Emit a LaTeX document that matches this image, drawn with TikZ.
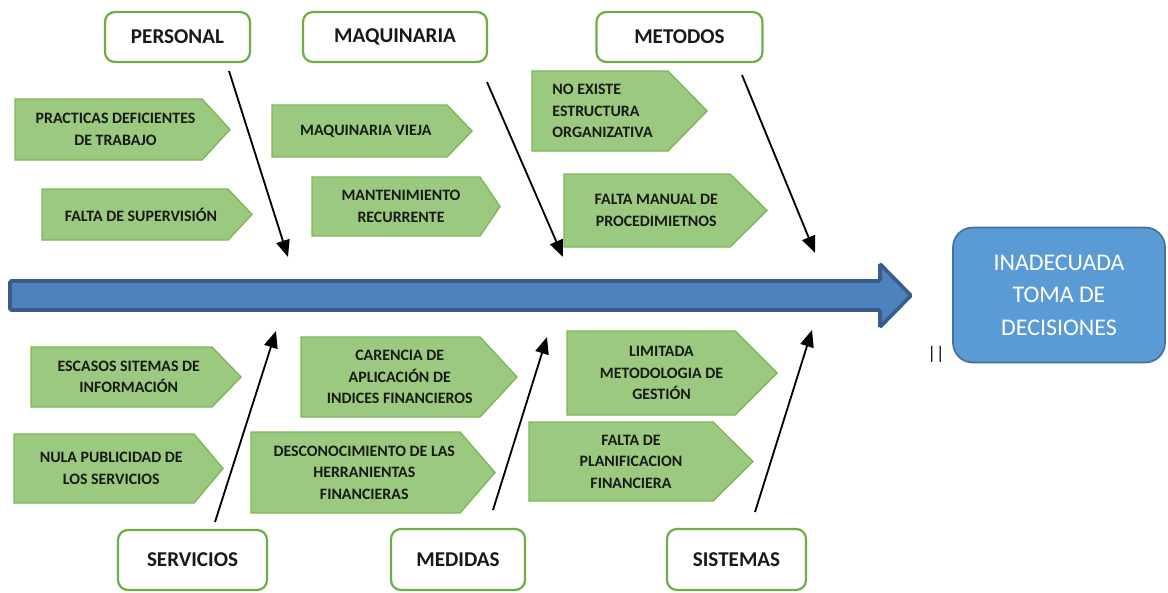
\documentclass[tikz,border=0pt]{standalone}
\usepackage{fontspec}
\setmainfont{Carlito}
\usepackage{tikz}
\usetikzlibrary{arrows.meta}
\usetikzlibrary{positioning}

\definecolor{verdeclaro}{RGB}{155,201,127}
\definecolor{verdeborde}{RGB}{125,183,86}
\definecolor{verdecaja}{RGB}{112,173,71}
\definecolor{azulespina}{RGB}{79,129,189}
\definecolor{azulborde}{RGB}{56,93,138}
\definecolor{azulefecto}{RGB}{91,155,213}
\definecolor{azulefectoborde}{RGB}{65,113,156}

\def\px{0.025cm}

% [opciones]{nombre}{x izq}{y arriba}{x punta ini}{x punta}{y abajo}{texto}
\newcommand{\causa}[8][]{%
  \draw[causabox] (#3,#4) -- (#5,#4) -- (#6,{(#4+#7)/2}) -- (#5,#7) -- (#3,#7) -- cycle;
  \node[textocausa,#1] (#2) at ({(#3+(#5+#6)/2)/2},{(#4+#7)/2}) {#8};
}

\begin{document}
\begin{tikzpicture}[x=0.025cm,y=-0.025cm]
\tikzstyle{causabox}=[fill=verdeclaro,draw=verdeborde,line width=1pt];
\tikzstyle{textocausa}=[font=\fontsize{11.3}{15.3}\selectfont\bfseries,align=center,text=black!90];
\tikzstyle{categoria}=[draw=verdecaja,fill=white,line width=1.6pt,rounded corners=7pt,font=\fontsize{15}{18}\selectfont\bfseries,text=black!90];
\tikzstyle{flecha}=[line width=1.3pt,-{Triangle[length=4.2mm,width=3.4mm]}];
\tikzstyle{espina}=[fill=azulespina,draw=azulborde,line width=2.6pt,rounded corners=1pt];
\tikzstyle{efecto}=[fill=azulefecto,draw=azulefectoborde,line width=1.2pt,rounded corners=14pt,text=white,font=\fontsize{17}{23}\selectfont,align=center];

\useasboundingbox (0,0) rectangle (1168,592);

\draw[espina] (10,281) -- (880,281) -- (880,264) -- (911,295.5) -- (880,327) -- (880,310) -- (10,310) -- cycle; % espina

\node[efecto,minimum width=212*\px,minimum height=135*\px] (efecto) at (1059,295) {INADECUADA\\TOMA DE\\DECISIONES};
\node[font=\fontsize{13}{13}\selectfont] (barras) at (936,354) {||};

% categorias
\node[categoria,minimum width=145*\px,minimum height=50*\px] (personal) at (177.5,37) {PERSONAL};
\node[categoria,minimum width=184*\px,minimum height=50*\px] (maquinaria) at (395,37) {MAQUINARIA};
\node[categoria,minimum width=166*\px,minimum height=50*\px] (metodos) at (679.5,37) {METODOS};
\node[categoria,minimum width=149*\px,minimum height=60*\px] (servicios) at (192.5,560) {SERVICIOS};
\node[categoria,minimum width=134*\px,minimum height=61*\px] (medidas) at (458,559.5) {MEDIDAS};
\node[categoria,minimum width=139*\px,minimum height=61*\px] (sistemas) at (736.5,559.5) {SISTEMAS};

% causas de arriba
\causa{practicas}{15}{99}{202}{230}{160}{PRACTICAS DEFICIENTES\\DE TRABAJO}
\causa{supervision}{42}{189}{228}{252}{240}{FALTA DE SUPERVISIÓN}
\causa{vieja}{272}{105}{447}{472}{157}{MAQUINARIA VIEJA}
\causa{mantenimiento}{312}{177}{480}{500}{236}{MANTENIMIENTO\\RECURRENTE}
\causa[align=left,xshift=-0.18cm]{estructura}{532}{71}{668}{707}{151}{NO EXISTE\\ESTRUCTURA\\ORGANIZATIVA}
\causa{manual}{564}{174}{730}{767}{247}{FALTA MANUAL DE\\PROCEDIMIETNOS}

% causas de abajo
\causa{escasos}{31}{347}{212}{241}{407}{ESCASOS SITEMAS DE\\INFORMACIÓN}
\causa{publicidad}{14}{434}{194}{223}{503}{NULA PUBLICIDAD DE\\LOS SERVICIOS}
\causa{carencia}{301}{337}{480}{517}{417}{CARENCIA DE\\APLICACIÓN DE\\INDICES FINANCIEROS}
\causa{desconocimiento}{251}{432}{460}{495}{513}{DESCONOCIMIENTO DE LAS\\HERRANIENTAS\\FINANCIERAS}
\causa{limitada}{567}{331}{735}{777}{415}{LIMITADA\\METODOLOGIA DE\\GESTIÓN}
\causa{planificacion}{529}{422}{713}{753}{501}{FALTA DE\\PLANIFICACION\\FINANCIERA}

% flechas
\coordinate (personal-ini) at (229,71);
\coordinate (personal-fin) at (288,257);
\coordinate (maquinaria-ini) at (487,82);
\coordinate (maquinaria-fin) at (563,257);
\coordinate (metodos-ini) at (742,75);
\coordinate (metodos-fin) at (815,253);
\coordinate (servicios-ini) at (215,522);
\coordinate (servicios-fin) at (276,331);
\coordinate (medidas-ini) at (493,510);
\coordinate (medidas-fin) at (547,337);
\coordinate (sistemas-ini) at (755,512);
\coordinate (sistemas-fin) at (812,330);

\draw[flecha] (personal-ini) -- (personal-fin);
\draw[flecha] (maquinaria-ini) -- (maquinaria-fin);
\draw[flecha] (metodos-ini) -- (metodos-fin);
\draw[flecha] (servicios-ini) -- (servicios-fin);
\draw[flecha] (medidas-ini) -- (medidas-fin);
\draw[flecha] (sistemas-ini) -- (sistemas-fin);

\end{tikzpicture}
\end{document}
